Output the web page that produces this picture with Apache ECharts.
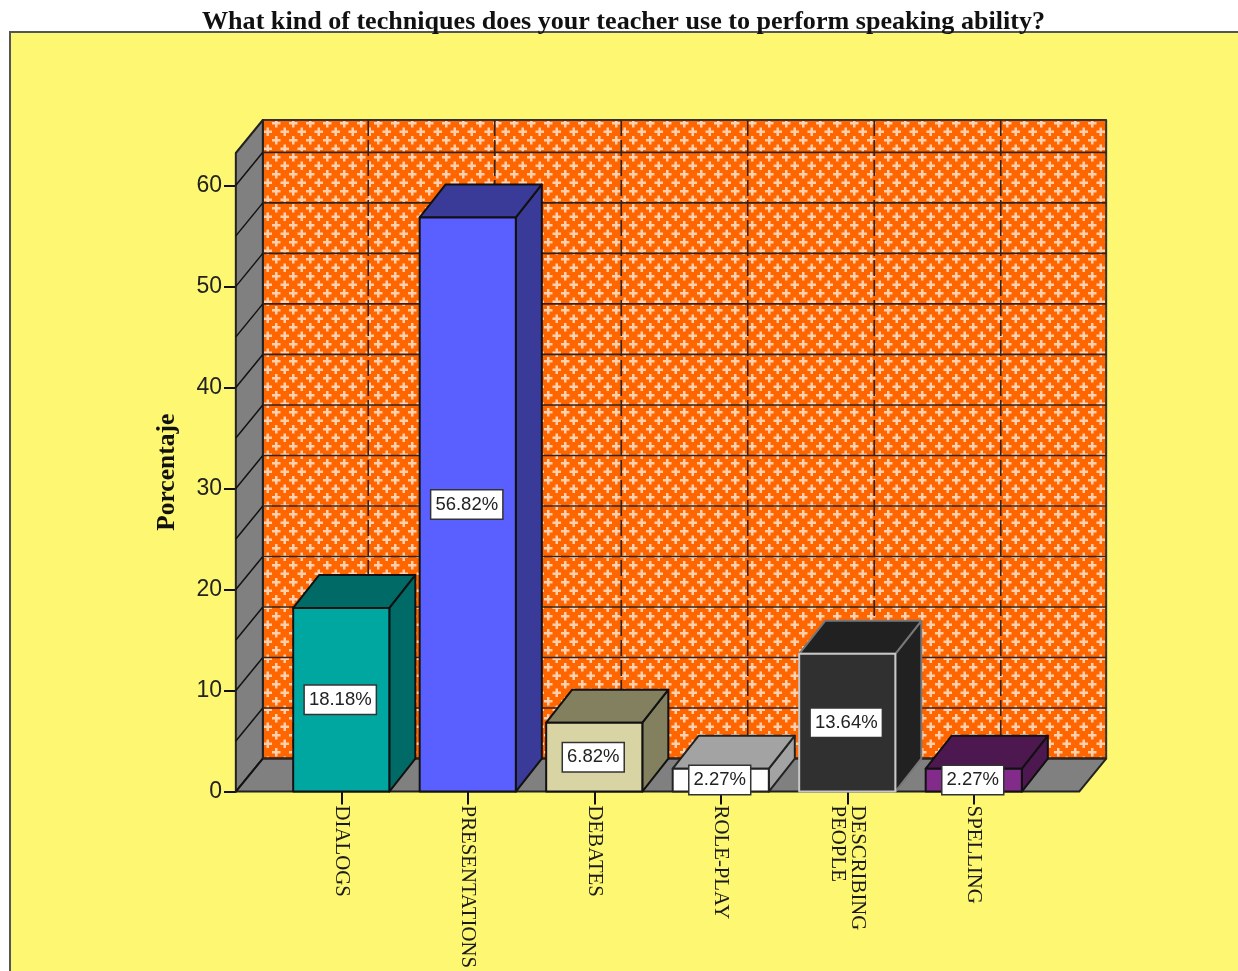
<!DOCTYPE html>
<html><head><meta charset="utf-8">
<style>html,body{margin:0;padding:0;background:#fff;overflow:hidden}#c{width:1238px;height:971px}</style>
<script src="https://cdn.jsdelivr.net/npm/echarts@6/dist/echarts.min.js"></script>
</head><body><div id="c"></div>
<script>
const titleText = 'What kind of techniques does your teacher use to perform speaking ability?';
const yAxisName = 'Porcentaje';
const categories = ['DIALOGS','PRESENTATIONS','DEBATES','ROLE-PLAY','DESCRIBING\nPEOPLE','SPELLING'];
const percentages = [18.18,56.82,6.82,2.27,13.64,2.27];
const frontColors = ['#00a7a0','#5a5fff','#d9d4a3','#ffffff','#303030','#832b8a'];
const sideColors  = ['#006b66','#3a3a99','#82805f','#a3a3a3','#212121','#4c184f'];
const edgeColors  = ['#111','#111','#111','#222','#c8c8c8','#111'];
const wallLineValues = [0,5,10,15,20,25,30,35,40,45,50,55,60];
const yMax = 63.2;
const DX = 27, DY = 33, BX = 26, BY = 33;

const tile = document.createElement('canvas');
tile.width = 17; tile.height = 17;
(function(){
  const g = tile.getContext('2d');
  g.fillStyle = '#ff6600'; g.fillRect(0,0,17,17);
  g.fillStyle = '#ffcfae';
  [[4.25,4.25],[12.75,12.75]].forEach(function(p){
    g.fillRect(p[0]-4.25,p[1]-1.25,8.5,2.5);
    g.fillRect(p[0]-1.25,p[1]-4.25,2.5,8.5);
  });
})();

const chart = echarts.init(document.getElementById('c'),null,{renderer:'canvas'});
function ends(params){
  const r = params.coordSys, pad = r.width/categories.length/3;
  return {l:r.x-pad, r:r.x+r.width+pad, t:r.y, b:r.y+r.height};
}
function poly(points,fill,stroke,w){
  return {type:'polygon',shape:{points:points},style:{fill:fill,stroke:stroke||'#111',lineWidth:w||2,lineJoin:'round'}};
}
chart.setOption({
  animation:false,
  backgroundColor:'#ffffff',
  title:{text:titleText,left:202,top:9,itemGap:0,padding:0,
    textStyle:{fontFamily:'Liberation Serif',fontWeight:'bold',fontSize:26.1,color:'#111'}},
  graphic:[{type:'rect',z:-10,shape:{x:10,y:32,width:1240,height:950},
    style:{fill:'#fdf771',stroke:'#555',lineWidth:2}}],
  grid:{left:278,width:759,top:153,height:639,containLabel:false},
  xAxis:{type:'category',data:categories,boundaryGap:true,
    axisLine:{show:false},
    axisTick:{show:true,alignWithLabel:true,length:13,lineStyle:{color:'#111',width:2}},
    splitLine:{show:false},
    axisLabel:{interval:0,rotate:-90,margin:14,fontFamily:'Liberation Serif',fontSize:20.8,color:'#1a1a1a',
      lineHeight:20,align:'left',verticalAlign:'middle'}},
  yAxis:{type:'value',min:0,max:yMax,interval:10,offset:42,
    name:yAxisName,nameLocation:'middle',nameGap:56,nameRotate:90,
    nameTextStyle:{fontFamily:'Liberation Serif',fontWeight:'bold',fontSize:25.5,color:'#111'},
    axisLine:{show:true,lineStyle:{color:'#111',width:2}},
    axisTick:{show:true,length:12,lineStyle:{color:'#111',width:2}},
    splitLine:{show:false},
    axisLabel:{margin:14,fontFamily:'Liberation Sans',fontSize:23,color:'#222',showMaxLabel:false,padding:[2,0,0,0]}},
  series:[
    {type:'custom',name:'walls',silent:true,z:2,data:[[0,0]],
     renderItem:function(params,api){
       const e = ends(params);
       return {type:'group',children:[
         poly([[e.l+DX,e.t-DY],[e.r+DX,e.t-DY],[e.r+DX,e.b-DY],[e.l+DX,e.b-DY]],{image:tile,repeat:'repeat'},'#333'),
         poly([[e.l,e.b],[e.l+DX,e.b-DY],[e.l+DX,e.t-DY],[e.l,e.t]],'#808080','#222'),
         poly([[e.l,e.b],[e.r,e.b],[e.r+DX,e.b-DY],[e.l+DX,e.b-DY]],'#808080','#222')
       ]};
     }},
    {type:'custom',name:'wallLines',silent:true,z:3,data:wallLineValues.map(function(v){return [v];}),
     encode:{y:0},
     renderItem:function(params,api){
       const e = ends(params), y = api.coord([0,api.value(0)])[1];
       return {type:'group',children:[
         {type:'line',shape:{x1:e.l,y1:y,x2:e.l+DX,y2:y-DY},style:{stroke:'#111',lineWidth:1.5}},
         {type:'line',shape:{x1:e.l+DX,y1:y-DY,x2:e.r+DX,y2:y-DY},style:{stroke:'#33231a',lineWidth:1.6}}
       ]};
     }},
    {type:'custom',name:'wallVLines',silent:true,z:3,data:categories.map(function(c,i){return [i];}),
     encode:{x:0},
     renderItem:function(params,api){
       const e = ends(params), x = api.coord([api.value(0),0])[0]+DX;
       return {type:'line',shape:{x1:x,y1:e.t-DY,x2:x,y2:e.b-DY},
         style:{stroke:'#33231a',lineWidth:1.6,lineDash:[16,4]}};
     }},
    {type:'custom',name:'Porcentaje',z:4,
     data:percentages.map(function(v,i){return [i,v];}),
     encode:{x:0,y:1},
     renderItem:function(params,api){
       const i = api.value(0), v = api.value(1);
       const top = api.coord([i,v]), base = api.coord([i,0]);
       const w = api.size([1,0])[0]*0.76;
       const x0 = top[0]-w/2, x1 = top[0]+w/2, y0 = top[1], y1 = base[1];
       const edge = edgeColors[i];
       const backEdge = edge==='#c8c8c8' ? '#777' : edge;
       return {type:'group',children:[
         poly([[x1,y1],[x1+BX,y1-BY],[x1+BX,y0-BY],[x1,y0]],sideColors[i],backEdge),
         poly([[x0,y0],[x1,y0],[x1+BX,y0-BY],[x0+BX,y0-BY]],sideColors[i],backEdge),
         poly([[x0,y0],[x1,y0],[x1,y1],[x0,y1]],frontColors[i],edge)
       ]};
     }},
    {type:'custom',name:'labels',silent:true,z:6,
     data:percentages.map(function(v,i){return [i,v];}),
     encode:{x:0,y:1},
     renderItem:function(params,api){
       const i = api.value(0), v = api.value(1);
       const p = api.coord([i,v/2]);
       return {type:'text',x:p[0]-1,y:p[1],
         style:{text:v.toFixed(2)+'%',align:'center',verticalAlign:'middle',
           fontFamily:'Liberation Sans',fontSize:18.5,fill:'#222',
           backgroundColor:'#fff',borderColor:'#333',borderWidth:1.5,padding:[6,4,3,4]}};
     }}
  ]
});
</script></body></html>
